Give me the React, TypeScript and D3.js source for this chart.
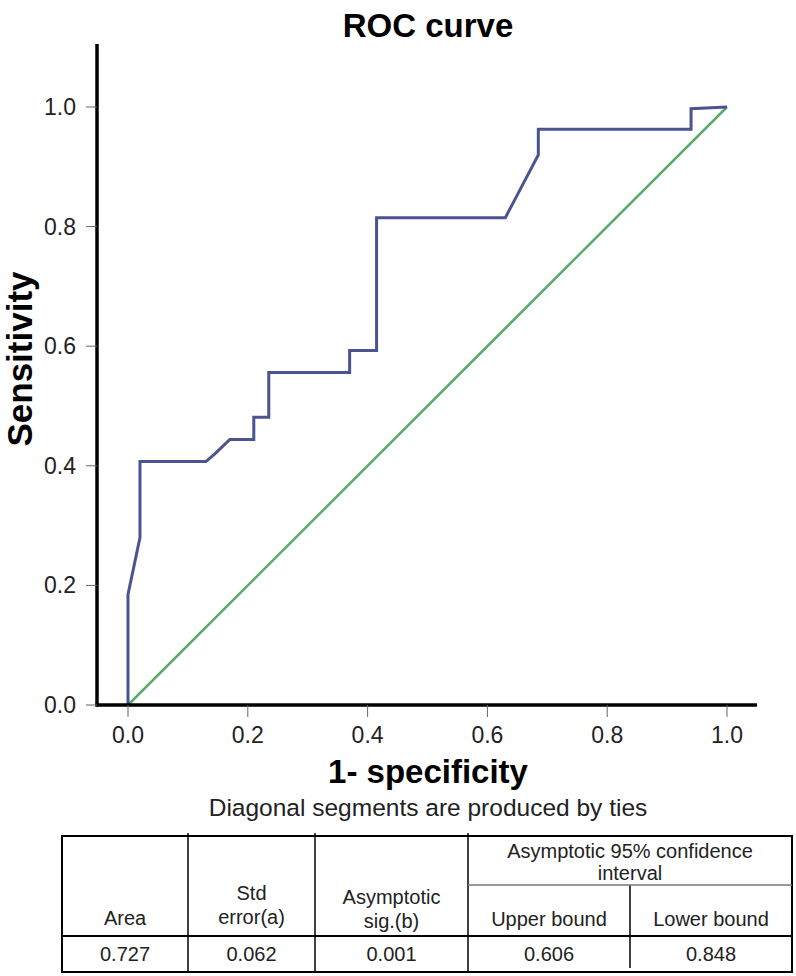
import React from "react";
import * as d3 from "d3";

const fpr = [0, 0, 0.02, 0.02, 0.13, 0.145, 0.17, 0.21, 0.21, 0.235, 0.235, 0.37, 0.37, 0.415, 0.415, 0.63, 0.685, 0.685, 0.94, 0.94, 1.0];
const tpr = [0, 0.185, 0.28, 0.407, 0.407, 0.42, 0.444, 0.444, 0.481, 0.481, 0.556, 0.556, 0.593, 0.593, 0.815, 0.815, 0.92, 0.963, 0.963, 0.997, 1.0];
const refLine = [0, 1];
const xTicks = [0, 0.2, 0.4, 0.6, 0.8, 1.0];
const yTicks = [0, 0.2, 0.4, 0.6, 0.8, 1.0];

const headCols = ["Area", "Std\nerror(a)", "Asymptotic\nsig.(b)", "Upper bound", "Lower bound"];
const groupHeader = "Asymptotic 95% confidence\ninterval";
const rowValues = ["0.727", "0.062", "0.001", "0.606", "0.848"];

const FONT = "'Liberation Sans', Arial, sans-serif";
const TFS = 20;

export default function App() {
  const x = d3.scaleLinear().domain([0, 1]).range([128, 727]);
  const y = d3.scaleLinear().domain([0, 1]).range([705, 107]);
  const xAxisLeft = 97;
  const xAxisRight = 757;
  const yAxisTop = 44;

  const pts: [number, number][] = fpr.map((f, i) => [f, tpr[i]]);
  const line = d3.line<[number, number]>().x((d) => x(d[0])).y((d) => y(d[1]));
  const rocPath = line(pts) || "";
  const refPath = line(refLine.map((v) => [v, v] as [number, number])) || "";

  // table layout
  const tLeft = 62, tRight = 792, tTop = 836, tBottom = 972;
  const colX = [62, 188, 315, 468, 630, 792];
  const subLineY = 885;
  const headBottom = 936;
  const colCenter = colX.slice(0, 5).map((c, i) => (c + colX[i + 1]) / 2);

  const multiline = (txt: string, cx: number, lastY: number, lh: number, key: string) => {
    const lines = txt.split("\n");
    return lines.map((l, i) => (
      <text key={key + i} x={cx} y={lastY - (lines.length - 1 - i) * lh} textAnchor="middle" fontSize={TFS} fontFamily={FONT} fill="#222">
        {l}
      </text>
    ));
  };

  const headLast = [925, 924, 928, 926, 926];

  return (
    <svg width={796} height={976} style={{ position: "absolute", left: 0, top: 0, background: "#fff" }}>
      <text x={428} y={37} textAnchor="middle" fontSize={33} fontWeight="bold" fontFamily={FONT}>ROC curve</text>

      {/* reference diagonal */}
      <path d={refPath} fill="none" stroke="#5aaa6a" strokeWidth={2.5} />
      {/* ROC curve */}
      <path d={rocPath} fill="none" stroke="#4a5490" strokeWidth={3} strokeLinejoin="miter" />

      {/* axes */}
      <line x1={xAxisLeft} x2={xAxisLeft} y1={yAxisTop} y2={y(0) + 1.5} stroke="#000" strokeWidth={3.5} />
      <line x1={xAxisLeft - 1.5} x2={xAxisRight} y1={y(0)} y2={y(0)} stroke="#000" strokeWidth={3.5} />

      {yTicks.map((t) => (
        <g key={"y" + t}>
          <line x1={xAxisLeft - 11} x2={xAxisLeft} y1={y(t)} y2={y(t)} stroke="#666" strokeWidth={1} />
          <text x={76} y={y(t) + 8} textAnchor="end" fontSize={23} fontFamily={FONT} fill="#222">{t.toFixed(1)}</text>
        </g>
      ))}
      {xTicks.map((t) => (
        <g key={"x" + t}>
          <line x1={x(t)} x2={x(t)} y1={y(0)} y2={y(0) + 12} stroke="#666" strokeWidth={1} />
          <text x={x(t)} y={743} textAnchor="middle" fontSize={23} fontFamily={FONT} fill="#222">{t.toFixed(1)}</text>
        </g>
      ))}

      <text transform={`translate(32,359) rotate(-90)`} textAnchor="middle" fontSize={35} fontWeight="bold" fontFamily={FONT}>Sensitivity</text>
      <text x={428} y={783} textAnchor="middle" fontSize={33} fontWeight="bold" fontFamily={FONT}>1- specificity</text>
      <text x={428} y={816} textAnchor="middle" fontSize={24.5} fontFamily={FONT} fill="#222">Diagonal segments are produced by ties</text>

      {/* table */}
      <rect x={tLeft} y={tTop} width={tRight - tLeft} height={tBottom - tTop} fill="none" stroke="#000" strokeWidth={2} />
      {colX.slice(1, 4).map((c, i) => (
        <line key={"cd" + i} x1={c} x2={c} y1={tTop - 3} y2={tBottom} stroke="#000" strokeWidth={1.5} />
      ))}
      <line x1={colX[4]} x2={colX[4]} y1={subLineY} y2={tBottom - 4} stroke="#000" strokeWidth={1.5} />
      <line x1={colX[3]} x2={tRight} y1={subLineY} y2={subLineY} stroke="#777" strokeWidth={1.5} />
      <line x1={tLeft} x2={tRight} y1={headBottom} y2={headBottom} stroke="#000" strokeWidth={2} />

      {multiline(groupHeader, (colX[3] + colX[5]) / 2, 880, 22, "g")}
      {headCols.map((h, i) => (
        <g key={"h" + i}>{multiline(h, colCenter[i], headLast[i], 24, "h" + i)}</g>
      ))}
      {rowValues.map((v, i) => (
        <text key={"v" + i} x={colCenter[i]} y={961} textAnchor="middle" fontSize={TFS} fontFamily={FONT} fill="#222">{v}</text>
      ))}
    </svg>
  );
}
